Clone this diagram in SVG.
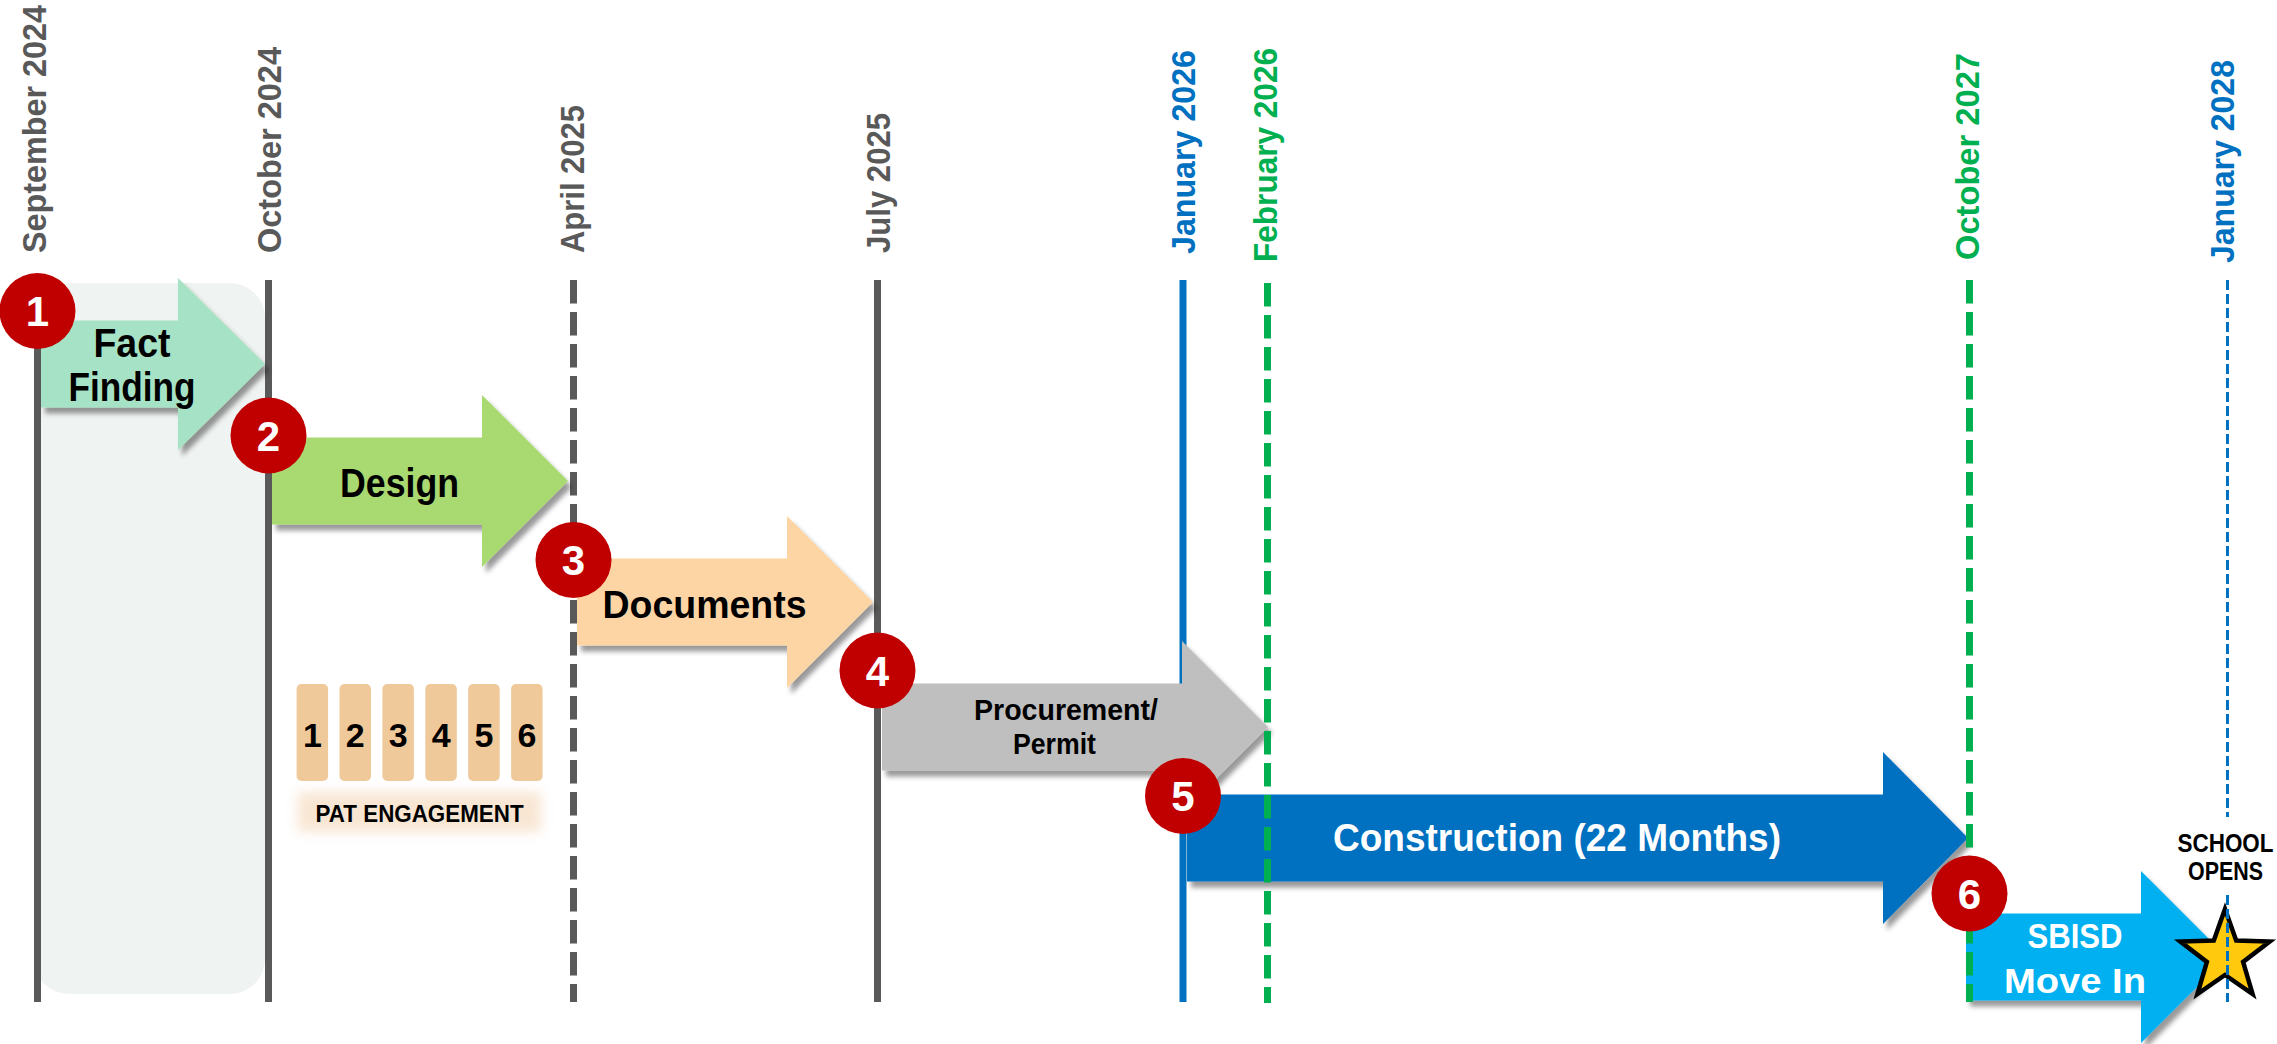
<svg xmlns="http://www.w3.org/2000/svg" width="2277" height="1044" viewBox="0 0 2277 1044">
<defs>
<filter id="sh" x="-5%" y="-10%" width="115%" height="130%">
<feDropShadow dx="4" dy="6" stdDeviation="2.5" flood-color="#000" flood-opacity="0.4"/>
</filter>
<filter id="glow" x="-20%" y="-60%" width="140%" height="220%">
<feGaussianBlur stdDeviation="6"/>
</filter>
</defs>
<style>
.date{font-family:"Liberation Sans",Arial,sans-serif;font-weight:bold;font-size:34px}
.gray{fill:#595959}.blue{fill:#0070C0}.green{fill:#00B050}
.lbl{font-family:"Liberation Sans",Arial,sans-serif;font-weight:bold;text-anchor:middle;fill:#000}
.wh{fill:#fff}
.num{font-family:"Liberation Sans",Arial,sans-serif;font-weight:bold;font-size:42px;fill:#fff;text-anchor:middle}
.circ{fill:#C00000}
.box{fill:#F0C99A}
.vl{fill:none;stroke-width:7}
</style>
<rect width="2277" height="1044" fill="#fff"/>
<g id="panel"><rect x="34" y="283" width="231" height="711" rx="35" fill="#EFF3F1"/></g>
<g id="date-labels">
<text class="date gray" transform="translate(46,253) rotate(-90)" textLength="248" lengthAdjust="spacingAndGlyphs">September 2024</text>
<text class="date gray" transform="translate(281,253) rotate(-90)" textLength="206" lengthAdjust="spacingAndGlyphs">October 2024</text>
<text class="date gray" transform="translate(584,253) rotate(-90)" textLength="148" lengthAdjust="spacingAndGlyphs">April 2025</text>
<text class="date gray" transform="translate(890,253) rotate(-90)" textLength="140" lengthAdjust="spacingAndGlyphs">July 2025</text>
<text class="date blue" transform="translate(1195,254) rotate(-90)" textLength="204" lengthAdjust="spacingAndGlyphs">January 2026</text>
<text class="date green" transform="translate(1277,262) rotate(-90)" textLength="214" lengthAdjust="spacingAndGlyphs">February 2026</text>
<text class="date green" transform="translate(1979,260) rotate(-90)" textLength="207" lengthAdjust="spacingAndGlyphs">October 2027</text>
<text class="date blue" transform="translate(2234,263) rotate(-90)" textLength="203" lengthAdjust="spacingAndGlyphs">January 2028</text>
</g>
<g id="connectors-lower">
<line class="vl" x1="37.5" y1="280" x2="37.5" y2="1002" stroke="#595959"/>
<line class="vl" x1="268.5" y1="280" x2="268.5" y2="1002" stroke="#595959"/>
<line class="vl" x1="573.5" y1="280" x2="573.5" y2="1002" stroke="#595959" stroke-dasharray="23.5 8.5"/>
<line class="vl" x1="877.5" y1="280" x2="877.5" y2="1002" stroke="#595959"/>
<line class="vl" x1="1183" y1="280" x2="1183" y2="1002" stroke="#0070C0"/>
</g>
<g id="arrow-fact" filter="url(#sh)">
<path d="M41,320.5 H178 V278 L265,364 L178,450 V407.5 H41 Z" fill="#A6E3C6"/>
</g>
<g id="arrow-design" filter="url(#sh)">
<path d="M272,437.5 H482 V395 L568,481 L482,567 V524.5 H272 Z" fill="#A9D971"/>
</g>
<g id="arrow-documents" filter="url(#sh)">
<path d="M577,558.5 H787 V516 L873,602 L787,688 V645.5 H577 Z" fill="#FDD5A5"/>
</g>
<g id="arrow-procurement" filter="url(#sh)">
<path d="M882,683.5 H1182 V641 L1268,727 L1182,813 V770.5 H882 Z" fill="#BFBFBF"/>
</g>
<g id="arrow-construction" filter="url(#sh)">
<path d="M1187,794.5 H1883 V752 L1968,838 L1883,924 V881.5 H1187 Z" fill="#0070C0"/>
</g>
<g id="arrow-movein" filter="url(#sh)">
<path d="M1966,913.5 H2141 V871 L2227,957 L2141,1043 V1000.5 H1966 Z" fill="#00B0F0"/>
</g>
<g id="star">
<polygon points="2225,909 2236.2,940.6 2269.7,941.5 2243.1,961.9 2252.6,994 2225,975 2197.4,994 2206.9,961.9 2180.3,941.5 2213.8,940.6" fill="#FFC90E" stroke="#000" stroke-width="4.5" stroke-linejoin="miter"/>
</g>
<g id="connectors-upper">
<line class="vl" x1="1267.5" y1="283" x2="1267.5" y2="1003" stroke="#00B050" stroke-dasharray="23.5 8.5"/>
<line class="vl" x1="1969.5" y1="280" x2="1969.5" y2="1002" stroke="#00B050" stroke-dasharray="23.5 8.5"/>
<line x1="2227.5" y1="280" x2="2227.5" y2="817" stroke="#0070C0" stroke-width="3" stroke-dasharray="10 4"/>
<line x1="2227.5" y1="895" x2="2227.5" y2="1002" stroke="#0070C0" stroke-width="3" stroke-dasharray="10 4"/>
</g>
<g id="arrow-labels">
<text class="lbl" x="132" y="357" font-size="40" textLength="77" lengthAdjust="spacingAndGlyphs">Fact</text>
<text class="lbl" x="132" y="401" font-size="40" textLength="127" lengthAdjust="spacingAndGlyphs">Finding</text>
<text class="lbl" x="399.5" y="497" font-size="40" textLength="119" lengthAdjust="spacingAndGlyphs">Design</text>
<text class="lbl" x="704.5" y="618" font-size="39" textLength="204" lengthAdjust="spacingAndGlyphs">Documents</text>
<text class="lbl" x="1066" y="720" font-size="29" textLength="184" lengthAdjust="spacingAndGlyphs">Procurement/</text>
<text class="lbl" x="1054.5" y="754" font-size="29" textLength="83" lengthAdjust="spacingAndGlyphs">Permit</text>
<text class="lbl wh" x="1557" y="851" font-size="38" textLength="448" lengthAdjust="spacingAndGlyphs">Construction (22 Months)</text>
<text class="lbl wh" x="2075" y="948" font-size="35" textLength="95" lengthAdjust="spacingAndGlyphs">SBISD</text>
<text class="lbl wh" x="2075" y="993" font-size="35" textLength="142" lengthAdjust="spacingAndGlyphs">Move In</text>
<text class="lbl" x="2225.5" y="851.5" font-size="25" textLength="96" lengthAdjust="spacingAndGlyphs">SCHOOL</text>
<text class="lbl" x="2225.5" y="880" font-size="25" textLength="75" lengthAdjust="spacingAndGlyphs">OPENS</text>
</g>
<g id="pat-engagement">
<rect x="298" y="792" width="243" height="40" fill="#F3D2B0" opacity="0.55" filter="url(#glow)"/>
<rect class="box" x="296.6" y="684" width="31.5" height="97" rx="5"/>
<rect class="box" x="339.5" y="684" width="31.5" height="97" rx="5"/>
<rect class="box" x="382.4" y="684" width="31.5" height="97" rx="5"/>
<rect class="box" x="425.3" y="684" width="31.5" height="97" rx="5"/>
<rect class="box" x="468.2" y="684" width="31.5" height="97" rx="5"/>
<rect class="box" x="511.1" y="684" width="31.5" height="97" rx="5"/>
<text class="lbl" x="312.4" y="746.7" font-size="34">1</text>
<text class="lbl" x="355.3" y="746.7" font-size="34">2</text>
<text class="lbl" x="398.2" y="746.7" font-size="34">3</text>
<text class="lbl" x="441.1" y="746.7" font-size="34">4</text>
<text class="lbl" x="484" y="746.7" font-size="34">5</text>
<text class="lbl" x="526.9" y="746.7" font-size="34">6</text>
<text class="lbl" x="419.6" y="822" font-size="24" textLength="208" lengthAdjust="spacingAndGlyphs">PAT ENGAGEMENT</text>
</g>
<g id="step-1"><circle class="circ" cx="37.5" cy="311" r="38"/><text class="num" x="37.5" y="326">1</text></g>
<g id="step-2"><circle class="circ" cx="268.5" cy="435.5" r="38"/><text class="num" x="268.5" y="450.5">2</text></g>
<g id="step-3"><circle class="circ" cx="573.5" cy="560" r="38"/><text class="num" x="573.5" y="575">3</text></g>
<g id="step-4"><circle class="circ" cx="877.5" cy="670.5" r="38"/><text class="num" x="877.5" y="685.5">4</text></g>
<g id="step-5"><circle class="circ" cx="1183" cy="796" r="38"/><text class="num" x="1183" y="811">5</text></g>
<g id="step-6"><circle class="circ" cx="1969.5" cy="893.5" r="38"/><text class="num" x="1969.5" y="908.5">6</text></g>
</svg>
